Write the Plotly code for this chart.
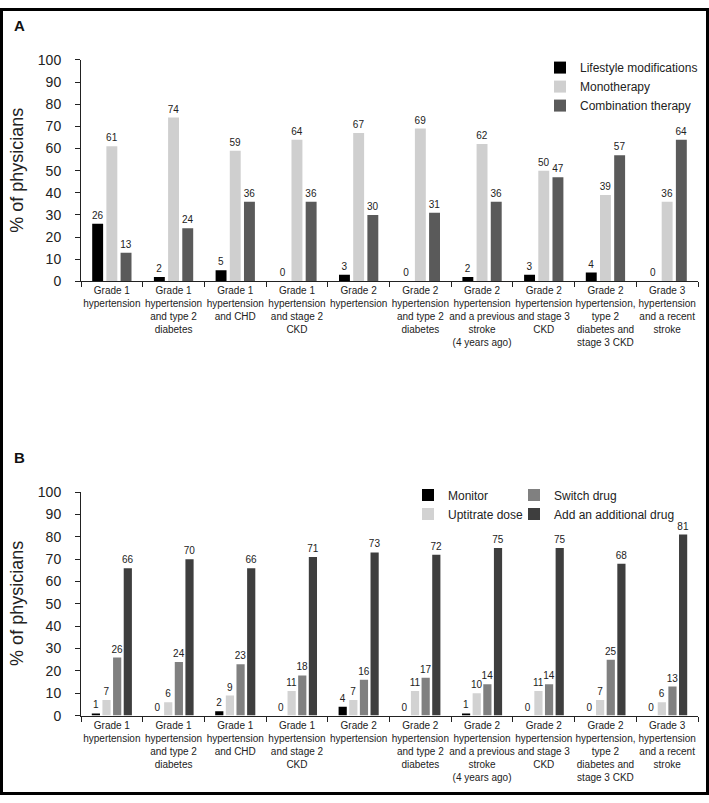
import plotly.graph_objects as go

categories = [
    "Grade 1<br>hypertension",
    "Grade 1<br>hypertension<br>and type 2<br>diabetes",
    "Grade 1<br>hypertension<br>and CHD",
    "Grade 1<br>hypertension<br>and stage 2<br>CKD",
    "Grade 2<br>hypertension",
    "Grade 2<br>hypertension<br>and type 2<br>diabetes",
    "Grade 2<br>hypertension<br>and a previous<br>stroke<br>(4 years ago)",
    "Grade 2<br>hypertension<br>and stage 3<br>CKD",
    "Grade 2<br>hypertension,<br>type 2<br>diabetes and<br>stage 3 CKD",
    "Grade 3<br>hypertension<br>and a recent<br>stroke",
]

# Panel A
lifestyle = [26, 2, 5, 0, 3, 0, 2, 3, 4, 0]
monotherapy = [61, 74, 59, 64, 67, 69, 62, 50, 39, 36]
combination = [13, 24, 36, 36, 30, 31, 36, 47, 57, 64]

# Panel B
monitor = [1, 0, 2, 0, 4, 0, 1, 0, 0, 0]
uptitrate = [7, 6, 9, 11, 7, 11, 10, 11, 7, 6]
switch_drug = [26, 24, 23, 18, 16, 17, 14, 14, 25, 13]
add_drug = [66, 70, 66, 71, 73, 72, 75, 75, 68, 81]

y_ticks = [0, 10, 20, 30, 40, 50, 60, 70, 80, 90, 100]

W, H = 709, 803
ML, MR = 81, 11
PW = W - ML - MR
FONT = "Liberation Sans, Arial, sans-serif"
TXT = "#222222"

def py(px):
    return 1 - px / H

def px_x(px):
    return (px - ML) / PW

fig = go.Figure()

def add_bar(name, vals, color, xa, ya, legend, rank):
    fig.add_trace(go.Bar(
        x=categories, y=vals, name=name, marker_color=color,
        marker_line_width=0, text=[str(v) for v in vals],
        textposition="outside", constraintext="none", cliponaxis=False,
        textfont=dict(size=10, color=TXT, family=FONT),
        xaxis=xa, yaxis=ya, legend=legend, legendrank=rank,
    ))

add_bar("Lifestyle modifications", lifestyle, "#000000", "x", "y", "legend", 1)
add_bar("Monotherapy", monotherapy, "#cfcfcf", "x", "y", "legend", 2)
add_bar("Combination therapy", combination, "#5a5a5a", "x", "y", "legend", 3)

add_bar("Monitor", monitor, "#000000", "x2", "y2", "legend2", 1)
add_bar("Uptitrate dose", uptitrate, "#d2d2d2", "x2", "y2", "legend2", 2)
add_bar("Switch drug", switch_drug, "#808080", "x2", "y2", "legend3", 1)
add_bar("Add an additional drug", add_drug, "#3e3e3e", "x2", "y2", "legend3", 2)

xax = dict(
    type="category", showline=True, linecolor="#222", linewidth=1,
    ticks="outside", tickson="boundaries", ticklen=5, tickcolor="#222",
    tickfont=dict(size=10, color=TXT, family=FONT), showgrid=False,
    domain=[0, 1], tickangle=0,
)
yax = dict(
    range=[0, 100], tickvals=y_ticks, showline=True, linecolor="#222",
    linewidth=1, ticks="outside", ticklen=5, tickcolor="#222",
    tickfont=dict(size=14, color=TXT, family=FONT), showgrid=False,
    zeroline=False, ticklabelstandoff=11,
)

leg_common = dict(
    font=dict(size=12, color=TXT, family=FONT), bgcolor="rgba(0,0,0,0)",
    xanchor="left", yanchor="top", itemwidth=30, tracegroupgap=0,
    orientation="v", traceorder="normal",
)

fig.update_layout(
    width=W, height=H,
    margin=dict(l=ML, r=MR, t=0, b=0),
    paper_bgcolor="white", plot_bgcolor="white",
    barmode="group", bargap=0.31, bargroupgap=0.23,
    font=dict(family=FONT, color=TXT),
    xaxis=dict(xax, anchor="y"),
    yaxis=dict(yax, domain=[py(279), py(53)], anchor="x"),
    xaxis2=dict(xax, anchor="y2"),
    yaxis2=dict(yax, domain=[py(722), py(494)], anchor="x2"),
    legend=dict(leg_common, x=px_x(540), y=py(46)),
    legend2=dict(leg_common, x=px_x(408), y=py(482)),
    legend3=dict(leg_common, x=px_x(514), y=py(482)),
    showlegend=True,
)

# Panel letters and y-axis titles
for letter, ypx in (("A", 18), ("B", 459)):
    fig.add_annotation(text="<b>%s</b>" % letter, xref="paper", yref="paper",
                       x=px_x(19), y=py(ypx), showarrow=False,
                       font=dict(size=15, color="#111", family=FONT),
                       xanchor="center", yanchor="middle")
for ymid in ((53 + 279) / 2, (494 + 722) / 2):
    fig.add_annotation(text="% of physicians", xref="paper", yref="paper",
                       x=px_x(17), y=py(ymid), showarrow=False, textangle=-90,
                       font=dict(size=18, color=TXT, family=FONT),
                       xanchor="center", yanchor="middle")

# Outer frame
fig.add_shape(type="rect", xref="paper", yref="paper",
              x0=px_x(1.5), x1=px_x(707.5), y0=py(801.5), y1=py(1.5),
              line=dict(color="black", width=3), layer="above")

PAGE_FIX = (
    "document.body.style.margin='0';"
    "document.body.style.overflow='hidden';"
    "var gd=document.getElementById('{plot_id}');"
    "gd.style.position='absolute';gd.style.left='0px';gd.style.top='0px';"
)

fig.write_html("out.html", post_script=PAGE_FIX,
               config={"displayModeBar": False})
